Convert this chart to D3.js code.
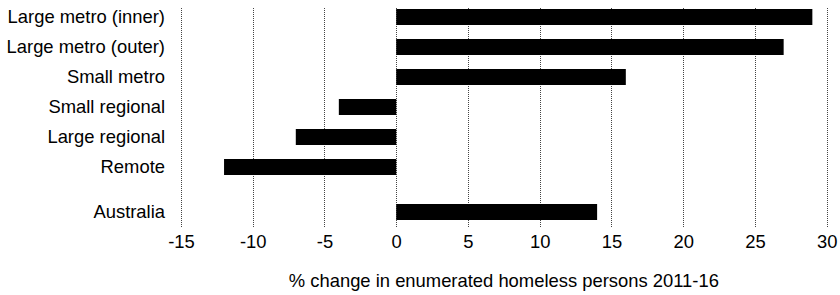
<!DOCTYPE html>
<html lang="en">
<head>
<meta charset="UTF-8">
<title>Homeless change</title>
<script src="https://cdn.jsdelivr.net/npm/d3@7"></script>
<style>
  body { margin: 0; background: #fff; }
  text { font-family: "Liberation Sans", Arial, sans-serif; fill: #000; }
</style>
</head>
<body>
<svg width="840" height="295"></svg>
<script>
// data
var categories = ["Large metro (inner)", "Large metro (outer)", "Small metro",
                  "Small regional", "Large regional", "Remote", "Australia"];
var values = [29, 27, 16, -4, -7, -12, 14];
var tickValues = [-15, -10, -5, 0, 5, 10, 15, 20, 25, 30];
var axisTitle = "% change in enumerated homeless persons 2011-16";

var svg = d3.select("svg");
var fs = "18.4px";

var x = d3.scaleLinear().domain([-15, 30]).range([181, 826.7]);

// slot index per row; the total row sits a half slot further down
function slot(i) { return categories[i] === "Australia" ? i + 0.5 : i; }
var y = d3.scaleLinear().domain([0, 1]).range([17, 47]);
var barH = 16;

var g = svg.append("g");

// dotted gridlines
g.selectAll(".grid")
  .data(tickValues)
  .enter().append("line")
  .attr("x1", function(d) { return Math.round(x(d)) + 0.5; })
  .attr("x2", function(d) { return Math.round(x(d)) + 0.5; })
  .attr("y1", 8)
  .attr("y2", 228)
  .attr("stroke", "#444")
  .attr("stroke-width", 1)
  .attr("stroke-dasharray", "1,1");

// bars
g.selectAll(".bar")
  .data(values)
  .enter().append("rect")
  .attr("x", function(d) { return x(Math.min(0, d)); })
  .attr("y", function(d, i) { return y(slot(i)) - barH / 2; })
  .attr("width", function(d) { return Math.abs(x(d) - x(0)); })
  .attr("height", barH)
  .attr("fill", "#000");

// category labels
g.selectAll(".cat")
  .data(categories)
  .enter().append("text")
  .attr("x", 165)
  .attr("y", function(d, i) { return y(slot(i)); })
  .attr("dy", "0.35em")
  .attr("text-anchor", "end")
  .attr("font-size", fs)
  .text(function(d) { return d; });

// x axis (labels only)
var xAxis = d3.axisBottom(x).tickValues(tickValues)
  .tickFormat(function(d) { return String(d); })
  .tickSize(0).tickPadding(0);
var ax = g.append("g")
  .attr("transform", "translate(0,235)")
  .call(xAxis);
ax.select(".domain").remove();
ax.selectAll("text")
  .attr("font-size", fs)
  .attr("font-family", "Liberation Sans, Arial, sans-serif")
  .attr("fill", "#000");

g.append("text")
  .attr("x", (x(-15) + x(30)) / 2)
  .attr("y", 281)
  .attr("dy", "0.35em")
  .attr("text-anchor", "middle")
  .attr("font-size", fs)
  .text(axisTitle);
</script>
</body>
</html>
